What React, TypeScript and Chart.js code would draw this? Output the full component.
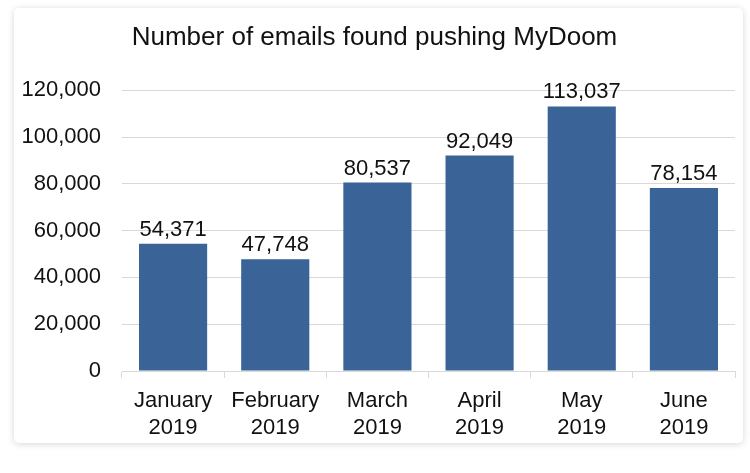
import React, { useEffect, useRef } from "react";
import { Chart, registerables } from "chart.js";

Chart.register(...registerables);

const TITLE = "Number of emails found pushing MyDoom";
const categories: string[][] = [
  ["January", "2019"],
  ["February", "2019"],
  ["March", "2019"],
  ["April", "2019"],
  ["May", "2019"],
  ["June", "2019"],
];
const emailCounts: number[] = [54371, 47748, 80537, 92049, 113037, 78154];
const yTicks: number[] = [0, 20000, 40000, 60000, 80000, 100000, 120000];

const FONT = "'Liberation Sans', Arial, Helvetica, sans-serif";
const TEXT = "#111111";
const BAR = "#3a6398";
const GRID = "#d9d9d9";

const fmt = (v: number) => v.toLocaleString("en-US");

const valueLabels = {
  id: "valueLabels",
  afterDatasetsDraw(chart: any) {
    const ctx = chart.ctx;
    const meta = chart.getDatasetMeta(0);
    ctx.save();
    ctx.font = `22px ${FONT}`;
    ctx.fillStyle = TEXT;
    ctx.textAlign = "center";
    ctx.textBaseline = "alphabetic";
    meta.data.forEach((bar: any, i: number) => {
      ctx.fillText(fmt(emailCounts[i]), bar.x, bar.y - 8);
    });
    ctx.restore();
  },
};

export default function App() {
  const ref = useRef<HTMLCanvasElement | null>(null);
  useEffect(() => {
    if (!ref.current) return;
    const chart = new Chart(ref.current, {
      type: "bar",
      data: {
        labels: categories,
        datasets: [
          {
            data: emailCounts,
            backgroundColor: BAR,
            borderWidth: 0,
            barPercentage: 0.667,
            categoryPercentage: 1,
          },
        ],
      },
      options: {
        animation: false,
        responsive: false,
        maintainAspectRatio: false,
        layout: { padding: { left: 0, right: 8, top: 0, bottom: 0 } },
        plugins: {
          legend: { display: false },
          tooltip: { enabled: false },
          title: {
            display: true,
            text: TITLE,
            color: TEXT,
            font: { family: FONT, size: 26, weight: "normal" as any, lineHeight: 1.2 },
            padding: { top: 14, bottom: 37 },
          },
        },
        scales: {
          x: {
            grid: {
              display: true,
              drawOnChartArea: false,
              offset: true,
              tickLength: 7,
              color: GRID,
            },
            border: { display: true, color: GRID },
            ticks: {
              color: TEXT,
              padding: 9,
              maxRotation: 0,
              font: { family: FONT, size: 22, lineHeight: 1.24 },
            },
            afterFit: (s: any) => {
              s.height = 72;
            },
          },
          y: {
            min: 0,
            max: 120000,
            afterBuildTicks: (s: any) => {
              s.ticks = yTicks.map((v) => ({ value: v }));
            },
            grid: { color: GRID, drawTicks: false },
            border: { display: false },
            ticks: {
              color: TEXT,
              padding: 21,
              font: { family: FONT, size: 22 },
              callback: (v: any) => fmt(Number(v)),
            },
            afterFit: (s: any) => {
              s.width = 108;
            },
          },
        },
      },
      plugins: [valueLabels],
    });
    return () => chart.destroy();
  }, []);

  return (
    <div style={{ position: "fixed", left: 0, top: 0, width: 750, height: 473, background: "#ffffff" }}>
      <div
        style={{
          position: "absolute",
          left: 14,
          top: 8,
          width: 729,
          height: 435,
          background: "#ffffff",
          borderRadius: 5,
          boxShadow: "0 1px 7px rgba(0,0,0,0.16)",
        }}
      >
        <canvas ref={ref} width={729} height={435} style={{ display: "block" }} />
      </div>
    </div>
  );
}
